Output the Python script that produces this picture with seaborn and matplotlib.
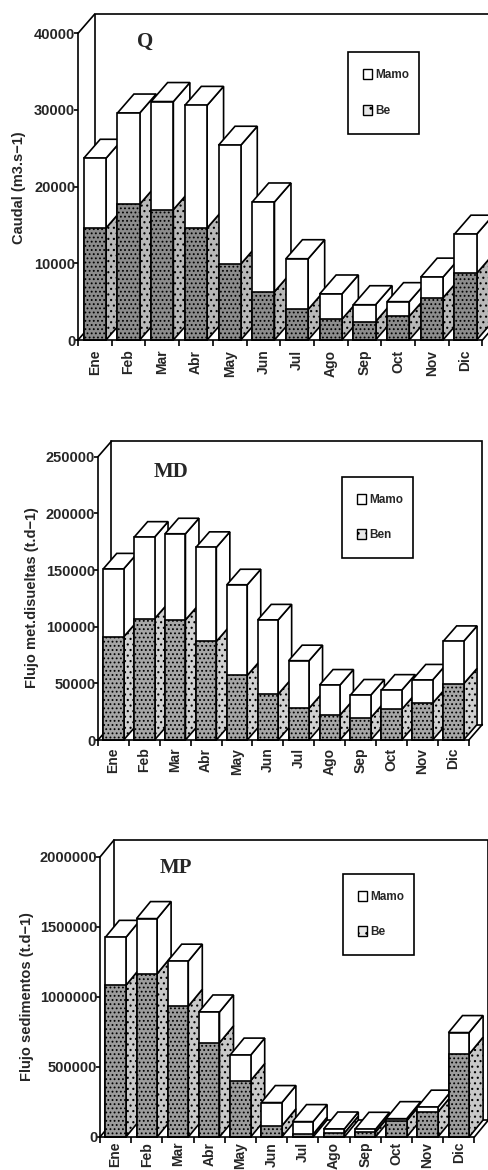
import numpy as np
import pandas as pd
import matplotlib
matplotlib.use("Agg")
import matplotlib.pyplot as plt
import seaborn as sns
from matplotlib.patches import Polygon, Patch, Rectangle
from matplotlib.lines import Line2D

# ---- data -------------------------------------------------------------
months = ["Ene", "Feb", "Mar", "Abr", "May", "Jun",
          "Jul", "Ago", "Sep", "Oct", "Nov", "Dic"]

# Caudal (m3.s-1)
q_be = [14600, 17700, 17000, 14600, 9900, 6300, 4000, 2700, 2400, 3100, 5500, 8700]
q_mamo = [9100, 11900, 14100, 16000, 15500, 11700, 6600, 3300, 2200, 1900, 2700, 5100]

# Flujo de metales disueltos (t.d-1)
md_be = [91000, 107000, 106000, 87000, 57000, 40500, 28000, 22000, 19700, 27000, 32500, 49500]
md_mamo = [60000, 72000, 76000, 83000, 80000, 65500, 42000, 26500, 20000, 17000, 20500, 37500]

# Flujo de sedimentos (t.d-1)
mp_be = [1083000, 1166000, 934000, 673000, 403000, 80000, 20000, 28000, 35000, 116000, 178000, 592000]
mp_mamo = [343000, 394000, 322000, 220000, 182000, 166000, 90000, 29000, 20000, 15000, 35000, 154000]

q_ticks = [0, 10000, 20000, 30000, 40000]
md_ticks = [0, 50000, 100000, 150000, 200000, 250000]
mp_ticks = [0, 500000, 1000000, 1500000, 2000000]

# ---- style ------------------------------------------------------------
sns.set_theme(style="white")
plt.rcParams["font.family"] = ["Liberation Sans", "DejaVu Sans"]
plt.rcParams["hatch.linewidth"] = 0.8

W, H = 488, 1170
BAR_W = 0.66
LW = 1.2

fig = plt.figure(figsize=(W / 100, H / 100), dpi=100)
fig.patch.set_facecolor("white")


def panel(left, ytop, ybot, slot, ymax, yticks, be, mamo, depth,
          title, title_xy, ylabel, ylabel_xy, leg_labels, leg_box,
          front_gray, side_gray, xpad):
    ax = fig.add_axes([left / W, 1 - ybot / H, 12 * slot / W, (ybot - ytop) / H])
    ax.set_facecolor("none")
    total = np.add(be, mamo)
    df = pd.DataFrame({"mes": months, "be": be, "total": total})

    # front faces: full stack in white, Be segment stippled on top of it
    sns.barplot(data=df, x="mes", y="total", color="white", saturation=1,
                width=BAR_W, edgecolor="black", linewidth=LW, ax=ax)
    sns.barplot(data=df, x="mes", y="be", color=front_gray, saturation=1,
                width=BAR_W, edgecolor="black", linewidth=LW, hatch="....", ax=ax)
    ax.set_xlim(-0.5, 11.5)
    ax.set_ylim(0, ymax)

    dx = depth[0] / slot
    dy = depth[1] * ymax / (ybot - ytop)

    fronts_tot = ax.patches[:12]
    fronts_be = ax.patches[12:24]
    for i in range(12):
        z = 10 + 4 * i
        fronts_tot[i].set_zorder(z + 2)
        fronts_be[i].set_zorder(z + 3)
        fronts_tot[i].set_clip_on(False)
        fronts_be[i].set_clip_on(False)
        xl = i - BAR_W / 2
        xr = i + BAR_W / 2
        b, t = be[i], total[i]
        side_be = Polygon([(xr, 0), (xr + dx, dy), (xr + dx, b + dy), (xr, b)],
                          closed=True, fc=side_gray, ec="black", lw=LW,
                          hatch="...", zorder=z + 1, clip_on=False)
        side_m = Polygon([(xr, b), (xr + dx, b + dy), (xr + dx, t + dy), (xr, t)],
                         closed=True, fc="white", ec="black", lw=LW,
                         zorder=z + 1, clip_on=False)
        top = Polygon([(xl, t), (xr, t), (xr + dx, t + dy), (xl + dx, t + dy)],
                      closed=True, fc="white", ec="black", lw=LW,
                      zorder=z + 1, clip_on=False)
        for p in (side_be, side_m, top):
            ax.add_patch(p)

    # back wall and edges of the box
    ax.add_patch(Rectangle((-0.5 + dx, dy), 12, ymax, fc="white", ec="black",
                           lw=LW, zorder=1, clip_on=False))
    ax.add_line(Line2D([-0.5, -0.5 + dx], [ymax, ymax + dy], color="black",
                       lw=LW, zorder=2, clip_on=False))
    ax.add_line(Line2D([-0.5, -0.5 + dx], [0, dy], color="black",
                       lw=LW, zorder=2, clip_on=False))
    ax.add_line(Line2D([11.5, 11.5 + dx], [0, dy], color="black",
                       lw=LW, zorder=80, clip_on=False))

    # axes
    for s in ("top", "right"):
        ax.spines[s].set_visible(False)
    for s in ("left", "bottom"):
        ax.spines[s].set_color("black")
        ax.spines[s].set_linewidth(LW)
        ax.spines[s].set_zorder(90)
    ax.set_yticks(yticks)
    ax.set_yticklabels([str(v) for v in yticks], fontweight="bold", fontsize=10.5)
    ax.tick_params(axis="y", which="major", length=3, width=LW, pad=-1,
                   color="black", left=True)
    ax.set_xticks(range(12))
    ax.set_xticklabels(months, rotation=90, fontweight="bold", fontsize=10)
    ax.set_xticks(np.arange(-0.5, 12, 1), minor=True)
    ax.tick_params(axis="x", which="major", length=0, pad=xpad)
    ax.tick_params(axis="x", which="minor", length=4, width=LW, color="black",
                   bottom=True, direction="out")
    ax.set_xlabel("")
    ax.set_ylabel("")

    fig.text(title_xy[0] / W, 1 - title_xy[1] / H, title, ha="center", va="center",
             fontsize=15, fontweight="bold", family=["Liberation Serif"])
    fig.text(ylabel_xy[0] / W, 1 - ylabel_xy[1] / H, ylabel, ha="center",
             va="center", rotation=90, fontsize=10.5, fontweight="bold")

    # legend box
    bx0, by0, bx1, by1 = leg_box
    fig.patches.append(Rectangle((bx0 / W, 1 - by1 / H), (bx1 - bx0) / W,
                                 (by1 - by0) / H, transform=fig.transFigure,
                                 fc="white", ec="black", lw=LW, zorder=95))
    handles = [Patch(fc="white", ec="black", lw=1.0),
               Patch(fc="#e8e8e8", ec="black", lw=1.0, hatch="..")]
    leg = fig.legend(handles, leg_labels, loc="center left",
                     bbox_to_anchor=((bx0 + 9) / W, 1 - (by0 + by1) / 2 / H),
                     bbox_transform=fig.transFigure, frameon=False,
                     borderpad=0, labelspacing=2.0, handlelength=0.75,
                     handleheight=0.9, handletextpad=0.3,
                     prop={"weight": "bold", "size": 8.5})
    leg.set_zorder(100)
    return ax


panel(78, 33.3, 340, 33.7, 40000, q_ticks, q_be, q_mamo, (16.5, 19),
      "Q", (145, 42), "Caudal (m3.s\u22121)", (19, 188),
      ["Mamo", "Be"], (348, 52, 419, 134), "#8c8c8c", "#b8b8b8", 7)

panel(98, 456.7, 740, 30.9, 250000, md_ticks, md_be, md_mamo, (13.5, 15.5),
      "MD", (171, 472), "Flujo met.disueltas (t.d\u22121)", (32, 598),
      ["Mamo", "Ben"], (342, 477, 413, 558), "#a6a6a6", "#d0d0d0", 5.5)

panel(100, 857, 1137, 31.2, 2000000, mp_ticks, mp_be, mp_mamo, (14, 17),
      "MP", (176, 868), "Flujo sedimentos (t.d\u22121)", (27, 997),
      ["Mamo", "Be"], (343, 874, 414, 955), "#9c9c9c", "#c8c8c8", 3.5)

fig.savefig("out.png", dpi=100, facecolor="white")
